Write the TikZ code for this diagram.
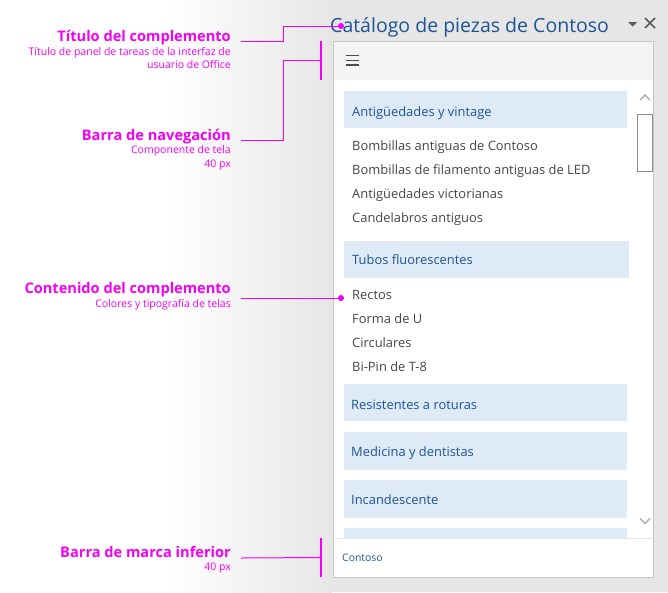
\documentclass[tikz,border=0pt]{standalone}
\usepackage{fontspec}
\setmainfont{Open Sans}
\definecolor{callpink}{RGB}{245, 0, 245}
\definecolor{officeblue}{RGB}{30, 84, 150}
\definecolor{itemgray}{RGB}{70, 70, 70}
\definecolor{hdrfill}{RGB}{222, 235, 247}
\definecolor{bggray}{RGB}{230, 230, 230}
\definecolor{navfill}{RGB}{244, 244, 244}
\definecolor{edgegray}{RGB}{198, 198, 198}
\usetikzlibrary{positioning, calc}

\tikzset{
  mainlbl/.style={anchor=base east, text=callpink, font=\fontsize{14.6}{16}\selectfont\bfseries, inner sep=0pt},
  sublbl/.style={anchor=base east, text=callpink, font=\fontsize{10.5}{12}\selectfont, inner sep=0pt},
  pinkline/.style={draw=callpink, line width=1pt},
  pinkbar/.style={draw=callpink, line width=2.5pt},
  pinkdot/.style={circle, fill=callpink, inner sep=0pt, minimum size=6pt},
  hdrbox/.style={fill=hdrfill, anchor=north west, minimum width=283pt, minimum height=37pt, inner sep=0pt},
  hdrtext/.style={anchor=base west, text=officeblue, font=\fontsize{12.9}{14}\selectfont, inner sep=0pt},
  itemtext/.style={anchor=base west, text=itemgray, font=\fontsize{12.9}{14}\selectfont, inner sep=0pt}
}

\begin{document}
\begin{tikzpicture}[x=1pt, y=-1pt]
  \useasboundingbox (0,0) rectangle (668,592);
  \fill[white] (0,0) rectangle (165,592);
  \shade[left color=white, right color=bggray] (165,0) rectangle (332,592);
  \fill[bggray] (332,0) rectangle (668,592);

  % task pane
  \draw[edgegray, fill=white] (333,41) rectangle (653,577);
  \fill[navfill] (333.5,41.5) rectangle (652.5,80);
  \draw[hdrfill!80!gray!60, line width=0.6pt] (333.5,538) -- (652.5,538);

  \node[anchor=base west, text=officeblue, font=\fontsize{19.5}{21}\selectfont, inner sep=0pt] (title) at (330,32.5) {Catálogo de piezas de Contoso};
  \fill[black!65] (628,22) -- (637,22) -- (632.5,26.5) -- cycle;
  \draw[black!65, line width=1.6pt] (645,18) -- (655,28) (645,28) -- (655,18);

  \draw[black!70, line width=1.3pt] (346,55.5) -- (359,55.5) (346,60.3) -- (359,60.3) (346,65) -- (359,65);

  % content
  \node[hdrbox] (hdrA) at (344,91) {};
  \node[hdrtext] at (352,116) {Antigüedades y vintage};
  \node[itemtext] (itemA) at (352,150) {Bombillas antiguas de Contoso};
  \node[itemtext] (itemB) at (352,174) {Bombillas de filamento antiguas de LED};
  \node[itemtext] (itemC) at (352,198) {Antigüedades victorianas};
  \node[itemtext] (itemD) at (352,222) {Candelabros antiguos};

  \node[hdrbox, minimum width=285pt] (hdrB) at (344,241) {};
  \node[hdrtext] at (352,264.5) {Tubos fluorescentes};
  \node[itemtext] (itemE) at (352,299) {Rectos};
  \node[itemtext] (itemF) at (352,323) {Forma de U};
  \node[itemtext] (itemG) at (352,347) {Circulares};
  \node[itemtext] (itemH) at (352,371) {Bi-Pin de T-8};

  \node[hdrbox] (hdrC) at (344,384) {};
  \node[hdrtext] at (351,409) {Resistentes a roturas};
  \node[hdrbox, minimum height=38pt] (hdrD) at (344,432) {};
  \node[hdrtext] at (351,456) {Medicina y dentistas};
  \node[hdrbox, minimum height=38pt] (hdrE) at (344,480) {};
  \node[hdrtext] at (351,504) {Incandescente};
  \fill[hdrfill] (344,528) rectangle (627,537.5);

  % scrollbar
  \draw[black!35, line width=1.2pt] (640,100) -- (645,95) -- (650,100);
  \draw[black!45, fill=white, line width=0.8pt] (637.5,114) rectangle (652.5,171);
  \draw[black!35, line width=1.2pt] (640,518.5) -- (645,523.5) -- (650,518.5);

  \node[anchor=base west, text=officeblue, font=\fontsize{10.4}{12}\selectfont, inner sep=0pt] (brand) at (342,561) {Contoso};

  % callouts
  \node[mainlbl] (ttl) at (231,41.5) {Título del complemento};
  \node[sublbl] (ttlsubA) at (231,55) {Título de panel de tareas de la interfaz de};
  \node[sublbl] (ttlsubB) at (231,68.5) {usuario de Office};
  \node[pinkdot] (ttldot) at (341,26) {};
  \coordinate (ttlend) at (241,41);
  \draw[pinkline] (ttlend) -- ++(42,0) |- (ttldot);

  \node[mainlbl] (nav) at (231,140.5) {Barra de navegación};
  \node[sublbl] (navsubA) at (231,153.5) {Componente de tela};
  \node[sublbl] (navsubB) at (231,167) {40 px};
  \coordinate (navtop) at (321,41);
  \coordinate (navbot) at (321,80);
  \coordinate (navend) at (241,140);
  \draw[pinkbar] (navtop) -- (navbot);
  \draw[pinkline] (navend) -- ++(42,0) |- ($(navtop)!0.5!(navbot)$);

  \node[mainlbl] (cont) at (231,293.5) {Contenido del complemento};
  \node[sublbl] (contsub) at (231,307) {Colores y tipografía de telas};
  \node[pinkdot] (contdot) at (341,298) {};
  \coordinate (contend) at (241,298);
  \draw[pinkline] (contend) -- (contdot);

  \node[mainlbl] (foot) at (231,557) {Barra de marca inferior};
  \node[sublbl] (footsub) at (231,570) {40 px};
  \coordinate (foottop) at (321,538);
  \coordinate (footbot) at (321,577);
  \coordinate (footend) at (241,558);
  \draw[pinkbar] (foottop) -- (footbot);
  \draw[pinkline] (footend) -- ($(foottop)!0.5!(footbot)$);
\end{tikzpicture}
\end{document}
